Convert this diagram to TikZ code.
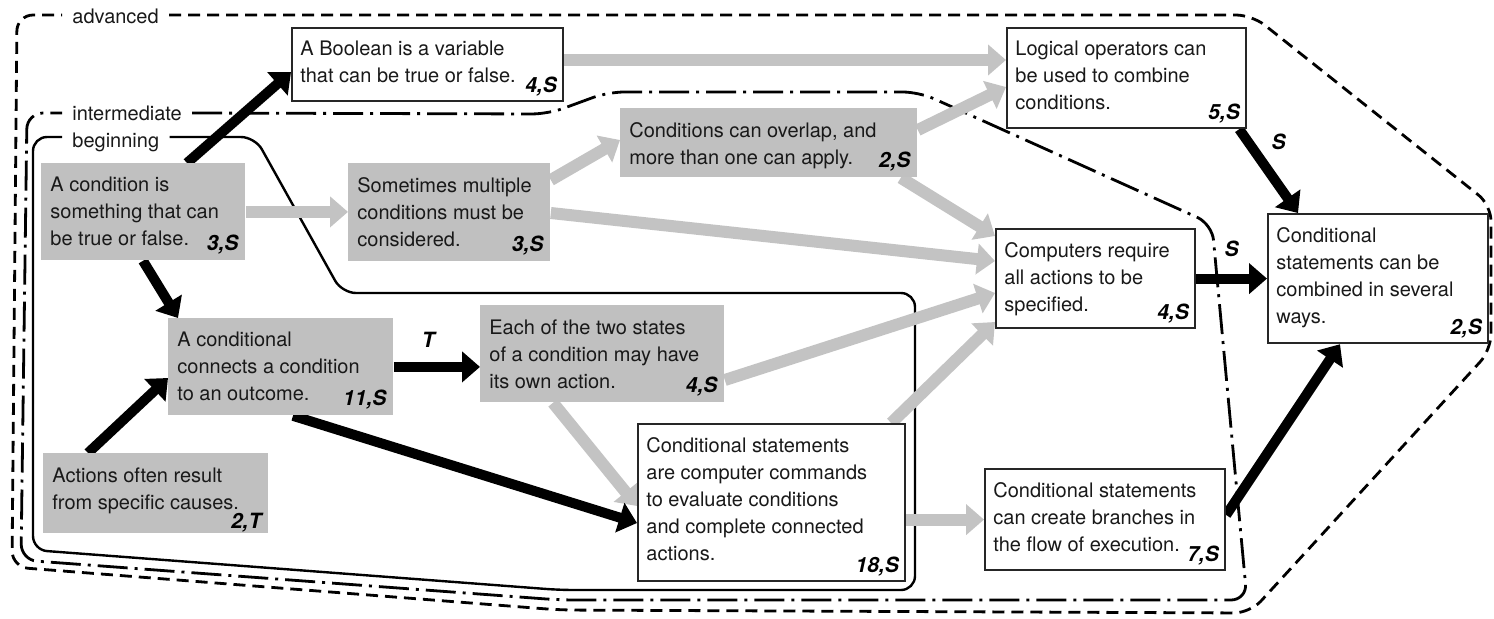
\documentclass[tikz,border=0pt]{standalone}
\usepackage{fontspec}
\setmainfont{TeX Gyre Heros}
\usetikzlibrary{arrows.meta,calc,backgrounds}

\definecolor{boxgray}{RGB}{192,192,192}
\definecolor{arrowgray}{RGB}{195,195,195}
\definecolor{inkgray}{RGB}{25,25,25}

% concept box: name, style, x1, y1, x2, y2, text, count
\newcommand\concept[8]{%
  \node[#2, minimum width={(#5-#3)*0.5pt}, minimum height={(#6-#4)*0.5pt},
        anchor=north west] (#1) at (#3,#4) {};
  \node[ctext, anchor=north west] (#1t) at (#1.north west) {#7};
  \node[ccount, anchor=south east] (#1n) at (#1.south east) {#8};
}

\begin{document}
\begin{tikzpicture}[x=0.5pt, y=-0.5pt,
  font=\fontsize{10pt}{13.5pt}\selectfont,
  wbox/.style={draw=black!85, line width=1.1pt, fill=white, inner sep=0pt},
  gbox/.style={fill=boxgray, inner sep=0pt},
  ctext/.style={align=left, inner xsep=4.5pt, inner ysep=7pt, text=inkgray},
  ccount/.style={font=\fontsize{10.5pt}{12pt}\selectfont\bfseries\itshape,
                 inner xsep=3.5pt, inner ysep=3pt, text=black},
  lowcount/.style={ccount, inner ysep=0.5pt},
  linklabel/.style={font=\fontsize{10.5pt}{12pt}\selectfont\bfseries\itshape, text=black},
  blabel/.style={inner xsep=5pt, inner ysep=0pt, text=inkgray},
  blackarrow/.style={line width=5pt, black, -{Triangle[length=9pt,width=15pt]}},
  grayarrow/.style={line width=6pt, arrowgray, -{Triangle[length=9pt,width=15pt]}},
  advline/.style={line width=1.4pt, black, dash pattern=on 6pt off 3.5pt, rounded corners=8pt},
  intline/.style={line width=1.4pt, black, dash pattern=on 15pt off 3.5pt on 1.5pt off 3.5pt, rounded corners=8pt},
  begline/.style={line width=1.2pt, black, rounded corners=7pt},
]
\useasboundingbox (0,0) rectangle (1494,618);

% level labels
\node[blabel, anchor=base west] (advlabel) at (62,23) {advanced};
\node[blabel, anchor=base west] (intlabel) at (62,120) {intermediate};
\node[blabel, anchor=base west] (beglabel) at (62,147) {beginning};

% concepts
\concept{boolean}{wbox}{291}{27}{562}{100}{A Boolean is a variable\\that can be true or false.}{4,S}
\concept{logical}{wbox}{1006}{27}{1245}{127}{Logical operators can\\be used to combine\\conditions.}{5,S}
\concept{overlap}{gbox}{620}{108}{917}{177}{Conditions can overlap, and\\more than one can apply.}{2,S}
\concept{condition}{gbox}{41}{163}{245}{260}{A condition is\\something that can\\be true or false.}{3,S}
\concept{multiple}{gbox}{348}{163}{550}{261}{Sometimes multiple\\conditions must be\\considered.}{3,S}
\concept{computers}{wbox}{995}{228}{1194}{327}{Computers require\\all actions to be\\specified.}{4,S}
\concept{combined}{wbox}{1267}{213}{1487}{342}{Conditional\\statements can be\\combined in several\\ways.}{2,S}
\concept{conditional}{gbox}{168}{318}{393}{415}{A conditional\\connects a condition\\to an outcome.}{11,S}
\concept{states}{gbox}{480}{305}{724}{402}{Each of the two states\\of a condition may have\\its own action.}{4,S}
\concept{commands}{wbox}{637}{423}{904}{580}{Conditional statements\\are computer commands\\to evaluate conditions\\and complete connected\\actions.}{18,S}
\concept{branches}{wbox}{984}{468}{1224}{569}{Conditional statements\\can create branches in\\the flow of execution.}{7,S}

% this one carries its count below the last line
\node[gbox, minimum width=112.5pt, minimum height=40pt, anchor=north west] (causes) at (43,453) {};
\node[ctext, anchor=north west] (causest) at (causes.north west) {Actions often result\\from specific causes.};
\node[lowcount, anchor=south east] (causesn) at (causes.south east) {2,T};

\begin{scope}[on background layer]
  % level boundaries
  \draw[advline] ($(advlabel.base east)+(0,-8)$) -- (1252,15) -- (1491,205) -- (1491,350)
     -- (1250,613) -- (560,610) -- (12,567) -- (17,15) -- ($(advlabel.base west)+(0,-8)$);
  \draw[intline] ($(intlabel.base east)+(0,-7)$) -- (548,114) -- (608,92) -- (919,92)
     -- (1212,224) -- (1247,600) -- (560,600) -- (21,560) -- (27,113)
     -- ($(intlabel.base west)+(0,-7)$);
  \draw[begline] ($(beglabel.base east)+(0,-10)$) -- (255,137) -- (342,293) -- (915,293)
     -- (915,590) -- (560,590) -- (33,550) -- (33,137) -- ($(beglabel.base west)+(0,-10)$);

  % weaker links
  \draw[grayarrow] ($(boolean.north east)+(0,33)$) -- ($(logical.north west)+(0,33)$);
  \draw[grayarrow] (condition.east) -- (condition.east -| multiple.west);
  \draw[grayarrow] ($(multiple.north east)+(0,17)$) -- ($(overlap.north west)+(0,32)$);
  \draw[grayarrow] ($(multiple.north east)+(0,50)$) -- ($(computers.north west)+(0,33)$);
  \draw[grayarrow] ($(overlap.north east)+(0,22)$) -- ($(logical.north west)+(0,60)$);
  \draw[grayarrow] ($(overlap.south east)+(-17,0)$) -- ($(computers.north west)+(0,8)$);
  \draw[grayarrow] ($(states.north east)+(0,75)$) -- ($(computers.north west)+(0,65)$);
  \draw[grayarrow] ($(commands.north east)+(-15,0)$) -- ($(computers.north west)+(0,94)$);
  \draw[grayarrow] ($(states.south west)+(73,0)$) -- ($(commands.north west)+(0,83)$);
  \draw[grayarrow] (branches.west -| commands.east) -- (branches.west);

  % strong links
  \draw[blackarrow] ($(condition.north west)+(146,0)$) -- ($(boolean.north west)+(0,45)$);
  \draw[blackarrow] ($(condition.south west)+(102,0)$) -- ($(conditional.north west)+(10,0)$);
  \draw[blackarrow] ($(causes.north west)+(45,0)$) -- ($(conditional.north west)+(0,60)$);
  \draw[blackarrow] (conditional.east) -- (conditional.east -| states.west)
     node[linklabel, pos=0.4, above=4pt] (tlink) {T};
  \draw[blackarrow] ($(conditional.south west)+(125,0)$) -- ($(commands.north west)+(0,100)$);
  \draw[blackarrow] ($(logical.south east)+(-8,0)$) -- ($(combined.north west)+(31,0)$)
     node[linklabel, pos=0.15, right=6pt] (slink1) {S};
  \draw[blackarrow] (computers.east) -- (computers.east -| combined.west)
     node[linklabel, pos=0.5, above=5pt] (slink2) {S};
  \draw[blackarrow] ($(branches.north east)+(0,47)$) -- ($(combined.south west)+(73,0)$);
\end{scope}
\end{tikzpicture}
\end{document}
